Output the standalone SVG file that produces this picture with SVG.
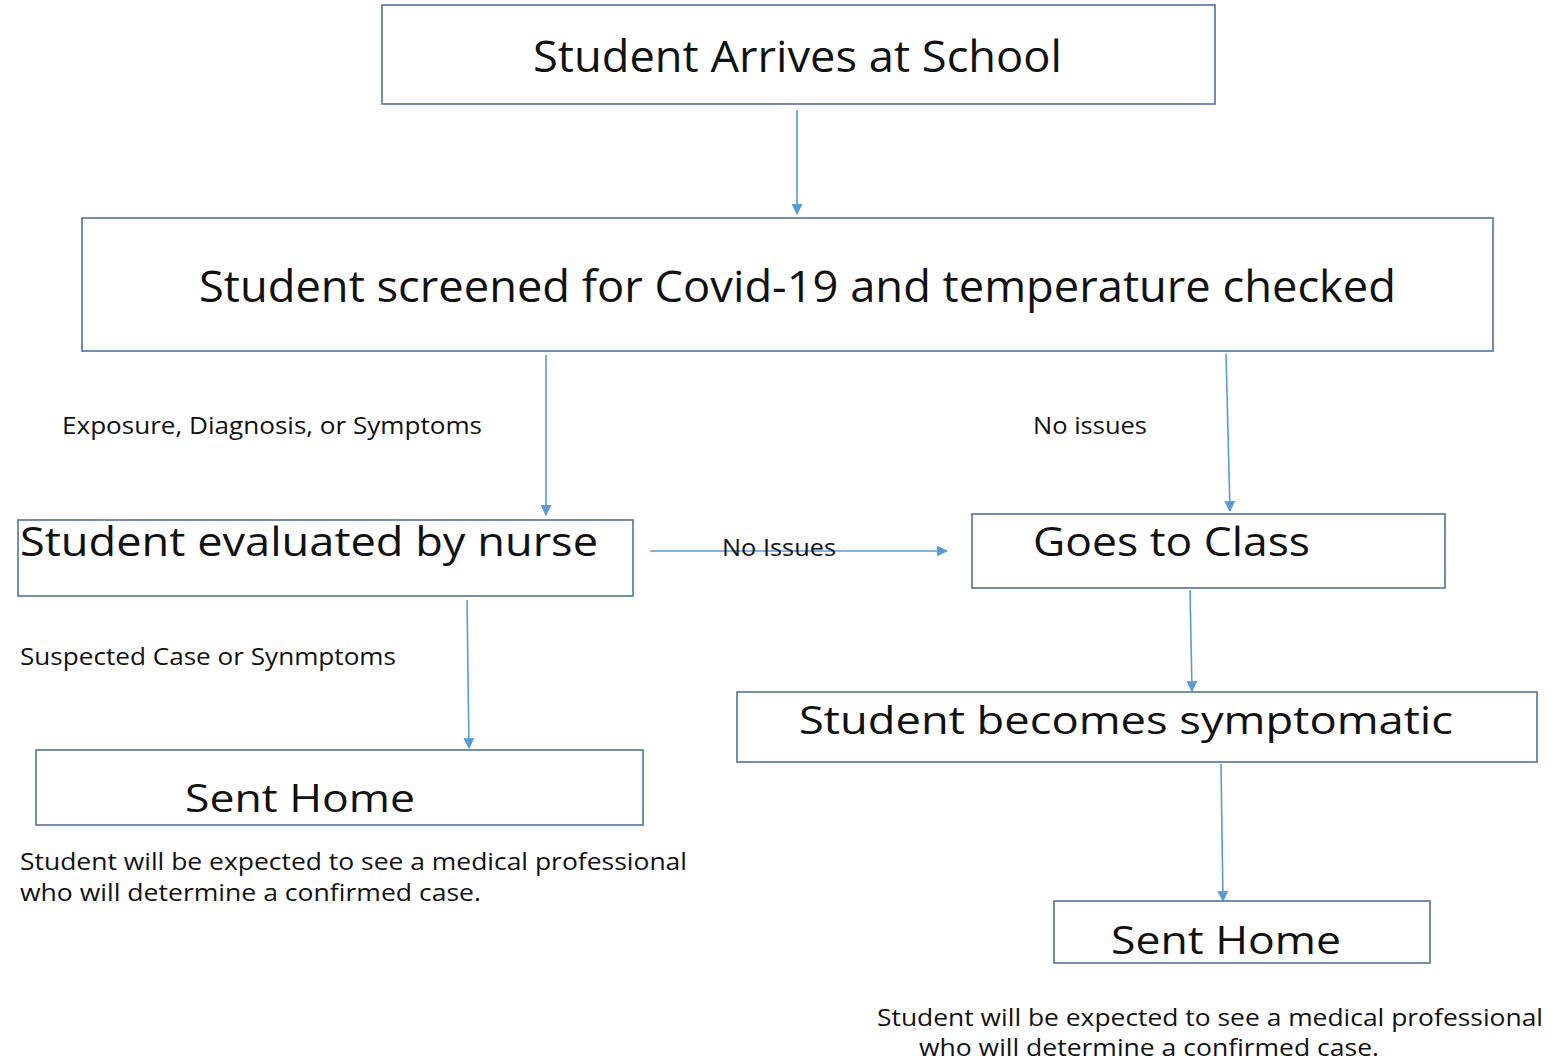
<svg xmlns="http://www.w3.org/2000/svg" width="1566" height="1063" viewBox="0 0 1566 1063">
<style>
.box{fill:#ffffff;stroke:#4f74a0;stroke-width:1.6}
.big{font-family:"Open Sans","Noto Sans",sans-serif;fill:#111;}
.small{font-family:"Open Sans","Noto Sans",sans-serif;fill:#111;font-size:23px}
.conn{stroke:#5b9bd5;stroke-width:1.6;fill:none;marker-end:url(#arr)}
</style>
<defs>
<marker id="arr" viewBox="0 0 10 10" refX="9" refY="5" markerWidth="11" markerHeight="11" markerUnits="userSpaceOnUse" orient="auto">
<path d="M0,0 L10,5 L0,10 z" fill="#5b9bd5"/>
</marker>
</defs>
<rect width="1566" height="1063" fill="#ffffff"/>
<g id="connectors">
<line class="conn" x1="797" y1="110" x2="797" y2="214"/>
<line class="conn" x1="546" y1="355" x2="546" y2="515"/>
<line class="conn" x1="1226" y1="354" x2="1230" y2="511"/>
<line class="conn" x1="650" y1="551" x2="947" y2="551"/>
<line class="conn" x1="1190" y1="590" x2="1192" y2="691"/>
<line class="conn" x1="467" y1="600" x2="469" y2="748"/>
<line class="conn" x1="1221" y1="764" x2="1223" y2="901"/>
<text class="small" x="62" y="434" textLength="420" lengthAdjust="spacingAndGlyphs">Exposure, Diagnosis, or Symptoms</text>
<text class="small" x="1033" y="434" textLength="114" lengthAdjust="spacingAndGlyphs">No issues</text>
<text class="small" x="722" y="556" textLength="114" lengthAdjust="spacingAndGlyphs">No Issues</text>
<text class="small" x="20" y="665" textLength="376" lengthAdjust="spacingAndGlyphs">Suspected Case or Synmptoms</text>
</g>
<g id="n1">
<rect class="box" x="382" y="5" width="833" height="99"/>
<text class="big" x="533" y="72" font-size="44" textLength="529" lengthAdjust="spacingAndGlyphs">Student Arrives at School</text>
</g>
<g id="n2">
<rect class="box" x="82" y="218" width="1411" height="133"/>
<text class="big" x="199" y="302" font-size="44" textLength="1197" lengthAdjust="spacingAndGlyphs">Student screened for Covid-19 and temperature checked</text>
</g>
<g id="n3">
<rect class="box" x="18" y="520" width="615" height="76"/>
<text class="big" x="20" y="556" font-size="40" textLength="578" lengthAdjust="spacingAndGlyphs">Student evaluated by nurse</text>
</g>
<g id="n4">
<rect class="box" x="972" y="514" width="473" height="74"/>
<text class="big" x="1033" y="556" font-size="40" textLength="277" lengthAdjust="spacingAndGlyphs">Goes to Class</text>
</g>
<g id="n5">
<rect class="box" x="737" y="692" width="800" height="70"/>
<text class="big" x="799" y="734" font-size="38" textLength="654" lengthAdjust="spacingAndGlyphs">Student becomes symptomatic</text>
</g>
<g id="n6">
<rect class="box" x="36" y="750" width="607" height="75"/>
<text class="big" x="185" y="812" font-size="38" textLength="230" lengthAdjust="spacingAndGlyphs">Sent Home</text>
</g>
<g id="n7">
<rect class="box" x="1054" y="901" width="376" height="62"/>
<text class="big" x="1111" y="954" font-size="38" textLength="230" lengthAdjust="spacingAndGlyphs">Sent Home</text>
</g>
<g id="notes">
<text class="small" x="20" y="870" font-size="24" textLength="667" lengthAdjust="spacingAndGlyphs">Student will be expected to see a medical professional</text>
<text class="small" x="20" y="901" font-size="24" textLength="461" lengthAdjust="spacingAndGlyphs">who will determine a confirmed case.</text>
<text class="small" x="877" y="1026" font-size="24" textLength="666" lengthAdjust="spacingAndGlyphs">Student will be expected to see a medical professional</text>
<text class="small" x="919" y="1056" font-size="24" textLength="460" lengthAdjust="spacingAndGlyphs">who will determine a confirmed case.</text>
</g>
</svg>
